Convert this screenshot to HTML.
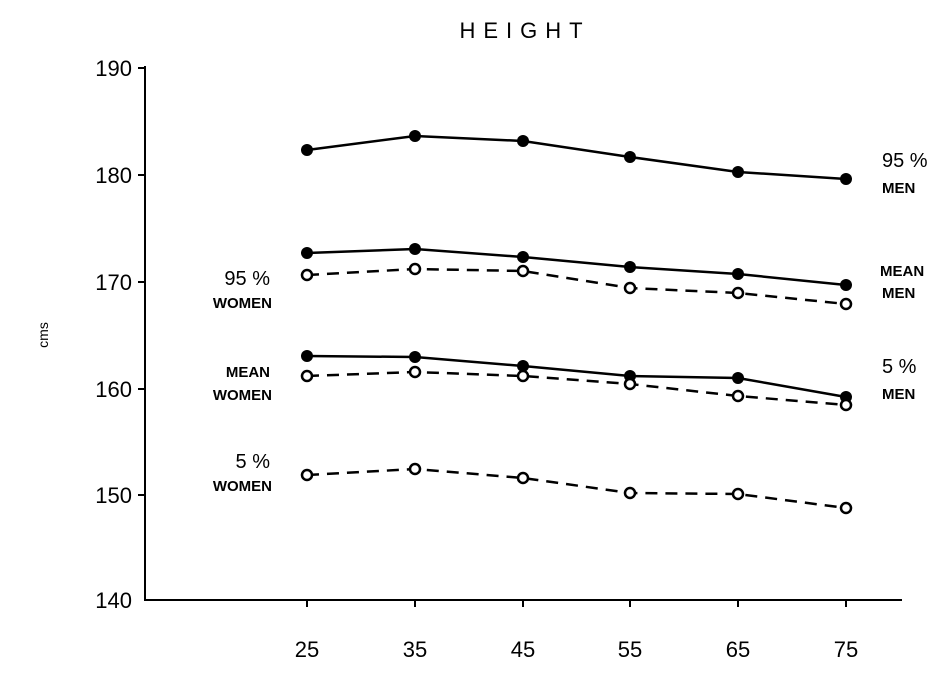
<!DOCTYPE html>
<html><head><style>body{margin:0;background:#fff}svg{display:block}text{font-family:"Liberation Sans",sans-serif;fill:#000}</style></head><body>
<svg width="952" height="677" viewBox="0 0 952 677" xmlns="http://www.w3.org/2000/svg">
<text x="525" y="38" font-size="22" text-anchor="middle" letter-spacing="8" transform="scale(1,1)">HEIGHT</text>
<g stroke="#000" stroke-width="2" fill="none">
<line x1="145" y1="66" x2="145" y2="601"/>
<line x1="144" y1="600" x2="902" y2="600"/>
<line x1="138" y1="68" x2="145" y2="68"/><line x1="138" y1="175" x2="145" y2="175"/>
<line x1="138" y1="282" x2="145" y2="282"/><line x1="138" y1="389" x2="145" y2="389"/>
<line x1="138" y1="495" x2="145" y2="495"/>
<line x1="307" y1="600" x2="307" y2="607"/><line x1="415" y1="600" x2="415" y2="607"/>
<line x1="523" y1="600" x2="523" y2="607"/><line x1="630" y1="600" x2="630" y2="607"/>
<line x1="738" y1="600" x2="738" y2="607"/><line x1="846" y1="600" x2="846" y2="607"/>
</g>
<g font-size="22" text-anchor="end">
<text x="132" y="76">190</text><text x="132" y="183">180</text><text x="132" y="290">170</text>
<text x="132" y="397">160</text><text x="132" y="503">150</text><text x="132" y="608">140</text>
</g>
<g font-size="22" text-anchor="middle">
<text x="307" y="657">25</text><text x="415" y="657">35</text><text x="523" y="657">45</text>
<text x="630" y="657">55</text><text x="738" y="657">65</text><text x="846" y="657">75</text>
</g>
<text x="48" y="335" font-size="14" text-anchor="middle" transform="rotate(-90 48 335)">cms</text>
<g stroke="#000" stroke-width="2.5" fill="none">
<polyline points="307,150 415,136 523,141 630,157 738,172 846,179"/>
<polyline points="307,253 415,249 523,257 630,267 738,274 846,285"/>
<polyline points="307,356 415,357 523,366 630,376 738,378 846,397"/>
<g stroke-dasharray="12,8">
<polyline points="307,275 415,269 523,271 630,288 738,293 846,304"/>
<polyline points="307,376 415,372 523,376 630,384 738,396 846,405"/>
<polyline points="307,475 415,469 523,478 630,493 738,494 846,508"/>
</g></g>
<g fill="#000">
<circle cx="307" cy="150" r="6"/><circle cx="415" cy="136" r="6"/><circle cx="523" cy="141" r="6"/><circle cx="630" cy="157" r="6"/><circle cx="738" cy="172" r="6"/><circle cx="846" cy="179" r="6"/>
<circle cx="307" cy="253" r="6"/><circle cx="415" cy="249" r="6"/><circle cx="523" cy="257" r="6"/><circle cx="630" cy="267" r="6"/><circle cx="738" cy="274" r="6"/><circle cx="846" cy="285" r="6"/>
<circle cx="307" cy="356" r="6"/><circle cx="415" cy="357" r="6"/><circle cx="523" cy="366" r="6"/><circle cx="630" cy="376" r="6"/><circle cx="738" cy="378" r="6"/><circle cx="846" cy="397" r="6"/>
</g>
<g fill="#fff" stroke="#000" stroke-width="2.5">
<circle cx="307" cy="275" r="5"/><circle cx="415" cy="269" r="5"/><circle cx="523" cy="271" r="5"/><circle cx="630" cy="288" r="5"/><circle cx="738" cy="293" r="5"/><circle cx="846" cy="304" r="5"/>
<circle cx="307" cy="376" r="5"/><circle cx="415" cy="372" r="5"/><circle cx="523" cy="376" r="5"/><circle cx="630" cy="384" r="5"/><circle cx="738" cy="396" r="5"/><circle cx="846" cy="405" r="5"/>
<circle cx="307" cy="475" r="5"/><circle cx="415" cy="469" r="5"/><circle cx="523" cy="478" r="5"/><circle cx="630" cy="493" r="5"/><circle cx="738" cy="494" r="5"/><circle cx="846" cy="508" r="5"/>
</g>
<g font-size="20"><text x="882" y="167">95 %</text><text x="882" y="373">5 %</text></g>
<g font-size="15" font-weight="bold"><text x="882" y="193">MEN</text><text x="880" y="276">MEAN</text><text x="882" y="298">MEN</text><text x="882" y="399">MEN</text></g>
<g font-size="20" text-anchor="end"><text x="270" y="285">95 %</text><text x="270" y="468">5 %</text></g>
<g font-size="15" font-weight="bold" text-anchor="end"><text x="272" y="308">WOMEN</text><text x="270" y="377">MEAN</text><text x="272" y="400">WOMEN</text><text x="272" y="491">WOMEN</text></g>
</svg>
</body></html>
